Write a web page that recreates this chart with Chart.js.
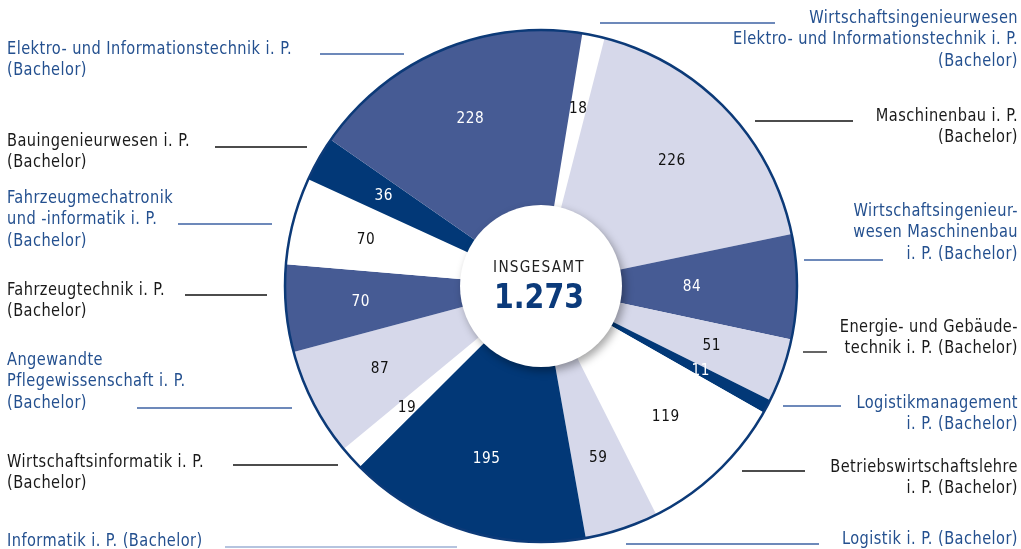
<!DOCTYPE html>
<html>
<head>
<meta charset="utf-8">
<script src="https://cdn.jsdelivr.net/npm/chart.js@4.4.1/dist/chart.umd.min.js"></script>
<style>
  html, body { margin: 0; padding: 0; background: #fff; }
  #wrap { width: 1021px; height: 549px; }
</style>
</head>
<body>
<div id="wrap"><canvas id="pieChart" width="1021" height="549"></canvas></div>
<script>
// segments clockwise, starting at the small white one near 12 o'clock
var labelLines = [
    ['Wirtschaftsingenieurwesen', 'Elektro- und Informationstechnik i. P.', '(Bachelor)'],
    ['Maschinenbau i. P.', '(Bachelor)'],
    ['Wirtschaftsingenieur-', 'wesen Maschinenbau', 'i. P. (Bachelor)'],
    ['Energie- und Gebäude-', 'technik i. P. (Bachelor)'],
    ['Logistikmanagement', 'i. P. (Bachelor)'],
    ['Betriebswirtschaftslehre', 'i. P. (Bachelor)'],
    ['Logistik i. P. (Bachelor)'],
    ['Informatik i. P. (Bachelor)'],
    ['Wirtschaftsinformatik i. P.', '(Bachelor)'],
    ['Angewandte', 'Pflegewissenschaft i. P.', '(Bachelor)'],
    ['Fahrzeugtechnik i. P.', '(Bachelor)'],
    ['Fahrzeugmechatronik', 'und -informatik i. P.', '(Bachelor)'],
    ['Bauingenieurwesen i. P.', '(Bachelor)'],
    ['Elektro- und Informationstechnik i. P.', '(Bachelor)']
];
var students = [18, 226, 84, 51, 11, 119, 59, 195, 19, 87, 70, 70, 36, 228];
var totalLabel = 'INSGESAMT';
var totalText = '1.273';

var WHITE = '#ffffff', LIGHT = '#d6d8ea', MID = '#465b94', DARK = '#023877';
var sliceColors = [WHITE, LIGHT, MID, LIGHT, DARK, WHITE, LIGHT, DARK, WHITE, LIGHT, MID, WHITE, DARK, MID];
var valueColors = ['#111', '#111', '#fff', '#111', '#fff', '#111', '#111', '#fff', '#111', '#111', '#fff', '#111', '#fff', '#fff'];

var FONT = "'Liberation Sans Narrow', 'DejaVu Sans Condensed', sans-serif";
var BLUE_TXT = '#24508f', BLACK_TXT = '#1a1a1a';

// where the outside labels and their leader lines sit (side, first line y, line x1, x2, y, colour)
var outside = [
    { side: 'R', y: 18,  lx: [600, 775], ly: 23,  c: BLUE_TXT },
    { side: 'R', y: 116, lx: [755, 853], ly: 121, c: BLACK_TXT },
    { side: 'R', y: 211, lx: [804, 883], ly: 260, c: BLUE_TXT },
    { side: 'R', y: 327, lx: [803, 827], ly: 352, c: BLACK_TXT },
    { side: 'R', y: 403, lx: [783, 841], ly: 406, c: BLUE_TXT },
    { side: 'R', y: 467, lx: [742, 805], ly: 471, c: BLACK_TXT },
    { side: 'R', y: 539, lx: [626, 819], ly: 544, c: BLUE_TXT },
    { side: 'L', y: 541, lx: [225, 457], ly: 547, c: BLUE_TXT, lc: '#9db0d4' },
    { side: 'L', y: 462, lx: [233, 338], ly: 465, c: BLACK_TXT },
    { side: 'L', y: 360, lx: [137, 292], ly: 408, c: BLUE_TXT },
    { side: 'L', y: 290, lx: [185, 267], ly: 295, c: BLACK_TXT },
    { side: 'L', y: 198, lx: [178, 272], ly: 224, c: BLUE_TXT },
    { side: 'L', y: 141, lx: [215, 307], ly: 147, c: BLACK_TXT },
    { side: 'L', y: 49,  lx: [320, 404], ly: 54,  c: BLUE_TXT }
];
var valueRadius = { 2: 0.59 };

// narrow-looking text: draw a bigger font squeezed horizontally
function squeezed(ctx, text, x, y, sx) {
    ctx.save();
    ctx.translate(x, y);
    ctx.scale(sx, 1);
    ctx.fillText(text, 0, 0);
    ctx.restore();
}

var decor = {
    id: 'decor',
    afterDatasetsDraw: function (chart) {
        var ctx = chart.ctx;
        var meta = chart.getDatasetMeta(0);
        var p0 = meta.data[0].getProps(['x', 'y', 'outerRadius'], true);
        var cx = p0.x, cy = p0.y, R = p0.outerRadius;

        ctx.save();
        // outer ring
        ctx.beginPath();
        ctx.arc(cx, cy, R, 0, Math.PI * 2);
        ctx.strokeStyle = '#0c3a78';
        ctx.lineWidth = 2.5;
        ctx.stroke();

        // values in the slices
        ctx.font = '16px ' + FONT;
        ctx.letterSpacing = '0.6px';
        ctx.textAlign = 'center';
        ctx.textBaseline = 'middle';
        meta.data.forEach(function (arc, i) {
            var a = arc.getProps(['startAngle', 'endAngle'], true);
            var mid = (a.startAngle + a.endAngle) / 2;
            var r = R * (valueRadius[i] || 0.707);
            ctx.fillStyle = valueColors[i];
            squeezed(ctx, String(students[i]), cx + Math.cos(mid) * r, cy + Math.sin(mid) * r, 0.95);
        });

        // centre disc
        ctx.save();
        ctx.shadowColor = 'rgba(0,0,0,0.35)';
        ctx.shadowBlur = 9;
        ctx.shadowOffsetX = 3;
        ctx.shadowOffsetY = 4;
        ctx.beginPath();
        ctx.arc(cx, cy, 81, 0, Math.PI * 2);
        ctx.fillStyle = '#fff';
        ctx.fill();
        ctx.restore();

        ctx.fillStyle = '#222';
        ctx.font = '16px ' + FONT;
        ctx.letterSpacing = '1.3px';
        squeezed(ctx, totalLabel, cx - 2, cy - 18, 0.95);
        ctx.fillStyle = '#0b3a7a';
        ctx.font = 'bold 34px ' + FONT;
        ctx.letterSpacing = '0px';
        squeezed(ctx, totalText, cx - 2, cy + 13, 0.93);

        // outside labels with leader lines
        ctx.font = '18px ' + FONT;
        ctx.letterSpacing = '0.5px';
        outside.forEach(function (o, i) {
            ctx.fillStyle = o.c;
            ctx.textAlign = o.side === 'L' ? 'left' : 'right';
            var tx = o.side === 'L' ? 7 : 1018;
            labelLines[i].forEach(function (line, k) {
                squeezed(ctx, line, tx, o.y + k * 21.5, 0.9);
            });
            ctx.beginPath();
            ctx.moveTo(o.lx[0], o.ly);
            ctx.lineTo(o.lx[1], o.ly);
            ctx.strokeStyle = o.lc || (o.c === BLUE_TXT ? '#3d62a3' : '#111');
            ctx.lineWidth = 1.3;
            ctx.stroke();
        });
        ctx.restore();
    }
};

var ctx = document.getElementById('pieChart').getContext('2d');
var myChart = new Chart(ctx, {
    type: 'doughnut',
    data: {
        labels: labelLines,
        datasets: [{
            data: students,
            backgroundColor: sliceColors,
            borderWidth: 0,
            hoverOffset: 0
        }]
    },
    options: {
        responsive: false,
        animation: false,
        rotation: 9.3,
        cutout: 70,
        layout: { padding: { left: 285, right: 224, top: 30, bottom: 7 } },
        plugins: {
            legend: { display: false },
            tooltip: { enabled: false }
        }
    },
    plugins: [decor]
});
</script>
</body>
</html>
